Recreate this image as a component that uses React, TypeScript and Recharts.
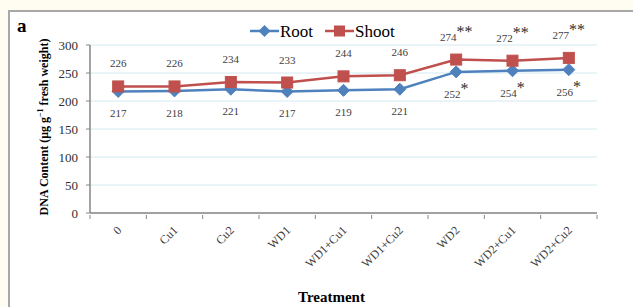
import React from "react";
import { LineChart, Line, XAxis, YAxis, CartesianGrid, Legend, LabelList } from "recharts";

const categories = ["0", "Cu1", "Cu2", "WD1", "WD1+Cu1", "WD1+Cu2", "WD2", "WD2+Cu1", "WD2+Cu2"];
const rootValues = [217, 218, 221, 217, 219, 221, 252, 254, 256];
const shootValues = [226, 226, 234, 233, 244, 246, 274, 272, 277];
const rootSig = ["", "", "", "", "", "", "*", "*", "*"];
const shootSig = ["", "", "", "", "", "", "**", "**", "**"];
const yTicks = [0, 50, 100, 150, 200, 250, 300];

const data = categories.map((c, i) => ({ name: c, Root: rootValues[i], Shoot: shootValues[i] }));

const ROOT = "#4f81bd";
const SHOOT = "#c0504d";
const SERIF = "'Liberation Serif', 'Times New Roman', serif";
const CHART_W = 633;
const MARGIN = { top: 45, right: 36, bottom: 14, left: 0 };
const Y_W = 90;
const BAND = (CHART_W - MARGIN.right - MARGIN.left - Y_W) / categories.length;

const Diamond = (props: any) => {
  const { cx, cy } = props;
  if (cx == null || cy == null) return null;
  const r = 6;
  return <path d={`M${cx},${cy - r}L${cx + r},${cy}L${cx},${cy + r}L${cx - r},${cy}Z`} fill={ROOT} stroke={ROOT} />;
};

const Square = (props: any) => {
  const { cx, cy } = props;
  if (cx == null || cy == null) return null;
  const r = 5.5;
  return <rect x={cx - r} y={cy - r} width={2 * r} height={2 * r} fill={SHOOT} stroke={SHOOT} />;
};

const makeLabel = (sig: string[], dyBase: number) => (props: any) => {
  const { x, y, value, index } = props;
  const s = sig[index];
  return (
    <text x={x} y={y + dyBase} textAnchor="middle" fontFamily={SERIF} fontSize={11} fill="#404040">
      {value}
      {s ? (
        <tspan fontSize={16} dy={-4} fill="#303030">
          {s}
        </tspan>
      ) : null}
    </text>
  );
};

const XTick = (props: any) => {
  const { x, y, payload, index } = props;
  const top = y - 4;
  const left = x - BAND / 2;
  return (
    <g>
      <line x1={left} y1={top} x2={left} y2={top + 4} stroke="#868686" />
      {index === categories.length - 1 ? (
        <line x1={x + BAND / 2} y1={top} x2={x + BAND / 2} y2={top + 4} stroke="#868686" />
      ) : null}
      <text
        x={x + 4}
        y={y + 12}
        transform={`rotate(-45, ${x + 4}, ${y + 12})`}
        textAnchor="end"
        fontFamily={SERIF}
        fontSize={12}
        fill="#404040"
      >
        {payload.value}
      </text>
    </g>
  );
};

const YTitle = (props: any) => {
  const { viewBox } = props;
  const cx = viewBox.x + 48;
  const cy = viewBox.y + viewBox.height / 2 - 2;
  return (
    <text
      x={cx}
      y={cy}
      transform={`rotate(-90, ${cx}, ${cy})`}
      textAnchor="middle"
      fontFamily={SERIF}
      fontWeight="bold"
      fontSize={12}
      fill="#000"
    >
      DNA Content (μg g
      <tspan fontSize={8} dy={-5}>−1</tspan>
      <tspan dy={5}> fresh weight)</tspan>
    </text>
  );
};

const XTitle = (props: any) => {
  const { viewBox } = props;
  return (
    <text
      x={viewBox.x + viewBox.width / 2 - 12}
      y={viewBox.y + 89}
      textAnchor="middle"
      fontFamily={SERIF}
      fontWeight="bold"
      fontSize={15}
      fill="#000"
    >
      Treatment
    </text>
  );
};

const LegendContent = () => (
  <svg width={160} height={24}>
    <line x1={2} y1={12} x2={31} y2={12} stroke={ROOT} strokeWidth={2.5} />
    <path d="M16.5,6L22.5,12L16.5,18L10.5,12Z" fill={ROOT} />
    <text x={32} y={18} fontFamily={SERIF} fontSize={17} fill="#000">Root</text>
    <line x1={77} y1={12} x2={106} y2={12} stroke={SHOOT} strokeWidth={2.5} />
    <rect x={86} y={6.5} width={11} height={11} fill={SHOOT} />
    <text x={107} y={18} fontFamily={SERIF} fontSize={17} fill="#000">Shoot</text>
  </svg>
);

export default function App() {
  return (
    <div style={{ position: "absolute", left: 0, top: 0, width: 633, height: 307, overflow: "hidden", background: "#fffdf2" }}>
      <div
        style={{
          position: "absolute",
          left: 8,
          top: 10,
          width: 650,
          height: 320,
          borderTop: "2px solid #a8a8a8",
          borderLeft: "2px solid #a8a8a8",
          background: "#ffffff",
        }}
      />
      <div
        style={{
          position: "absolute",
          left: 17,
          top: 15,
          fontFamily: SERIF,
          fontWeight: "bold",
          fontSize: 19,
          color: "#000",
        }}
      >
        a
      </div>
      <div style={{ position: "absolute", left: 0, top: 0 }}>
        <LineChart width={CHART_W} height={307} data={data} margin={MARGIN}>
          <CartesianGrid horizontal={true} vertical={false} stroke="#d3eaf1" strokeWidth={1} />
          <XAxis
            dataKey="name"
            scale="band"
            height={80}
            tick={<XTick />}
            tickLine={false}
            axisLine={{ stroke: "#868686", strokeWidth: 1.5 }}
            tickSize={4}
            interval={0}
            label={<XTitle />}
          />
          <YAxis
            width={Y_W}
            domain={[0, 300]}
            ticks={yTicks}
            tick={{ fontFamily: SERIF, fontSize: 13, fill: "#303030" }}
            tickLine={{ stroke: "#868686" }}
            axisLine={{ stroke: "#868686", strokeWidth: 1.5 }}
            tickSize={4}
            tickMargin={8}
            label={<YTitle />}
          />
          <Legend
            layout="horizontal"
            verticalAlign="middle"
            align="center"
            wrapperStyle={{ position: "absolute", top: 19, left: 248, width: 160, height: 24 }}
            content={<LegendContent />}
          />
          <Line
            dataKey="Root"
            stroke={ROOT}
            strokeWidth={2.5}
            dot={<Diamond />}
            activeDot={false}
            isAnimationActive={false}
          >
            <LabelList dataKey="Root" content={makeLabel(rootSig, 26)} />
          </Line>
          <Line
            dataKey="Shoot"
            stroke={SHOOT}
            strokeWidth={2.5}
            dot={<Square />}
            activeDot={false}
            isAnimationActive={false}
          >
            <LabelList dataKey="Shoot" content={makeLabel(shootSig, -19)} />
          </Line>
        </LineChart>
      </div>
    </div>
  );
}
